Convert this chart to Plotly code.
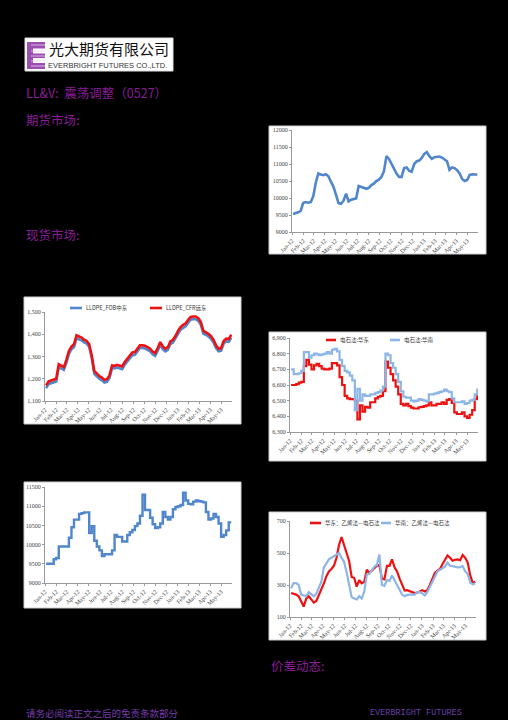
import pandas as pd
import plotly.graph_objects as go

W, H = 508, 720

# ---------------- data ----------------
dates = pd.date_range("2012-01-04", periods=74, freq="7D")

ll_futures = [9530, 9550, 9580, 9620, 9850, 9880, 9860, 9880, 10050, 10450,
              10720, 10690, 10670, 10700, 10640, 10480, 10330, 10100, 9850, 9830,
              9920, 10130, 9900, 9950, 9980, 9990, 10350, 10330, 10300, 10270,
              10300, 10380, 10420, 10500, 10540, 10620, 10780, 11230, 11150, 11000,
              10830, 10720, 10620, 10620, 10880, 10900, 10800, 10770, 11000, 11080,
              11100, 11180, 11300, 11350, 11230, 11150, 11200, 11220, 11220, 11190,
              11120, 11080, 10830, 10900, 10880, 10820, 10720, 10560, 10500, 10530,
              10680, 10700, 10690, 10690]

lldpe_cfr = [1170, 1188, 1192, 1195, 1200, 1265, 1258, 1252, 1285, 1325,
             1345, 1355, 1395, 1390, 1385, 1375, 1370, 1355, 1305, 1235,
             1222, 1212, 1205, 1195, 1198, 1215, 1260, 1258, 1262, 1260,
             1255, 1275, 1288, 1300, 1318, 1320, 1338, 1350, 1350, 1348,
             1342, 1335, 1322, 1315, 1338, 1365, 1345, 1335, 1342, 1368,
             1375, 1392, 1415, 1432, 1442, 1448, 1465, 1478, 1480, 1480,
             1472, 1455, 1415, 1410, 1402, 1392, 1375, 1350, 1335, 1338,
             1370, 1380, 1378, 1398]

lldpe_fob = [1158, 1176, 1180, 1183, 1188, 1252, 1246, 1240, 1272, 1312,
             1333, 1343, 1382, 1378, 1373, 1363, 1358, 1343, 1292, 1222,
             1210, 1200, 1193, 1183, 1186, 1203, 1248, 1246, 1250, 1248,
             1243, 1263, 1276, 1288, 1306, 1308, 1326, 1338, 1338, 1336,
             1330, 1323, 1310, 1303, 1326, 1352, 1333, 1323, 1330, 1356,
             1363, 1380, 1402, 1420, 1430, 1436, 1452, 1466, 1468, 1468,
             1460, 1443, 1402, 1398, 1390, 1380, 1363, 1338, 1323, 1326,
             1358, 1368, 1366, 1385]

pvc_east = [6600, 6600, 6605, 6615, 6620, 6720, 6760, 6730, 6700, 6725,
            6735, 6720, 6705, 6700, 6700, 6705, 6740, 6740, 6725, 6650,
            6600, 6530, 6515, 6510, 6510, 6500, 6380, 6470, 6430, 6460,
            6455, 6490, 6490, 6515, 6525, 6530, 6560, 6750, 6710, 6670,
            6630, 6590, 6540, 6480, 6470, 6480, 6465, 6455, 6450, 6450,
            6458, 6460, 6465, 6470, 6490, 6470, 6470, 6480, 6480, 6490,
            6480, 6505, 6510, 6485, 6425, 6415, 6415, 6425, 6400, 6390,
            6410, 6440, 6510, 6545]

pvc_south = [6700, 6670, 6670, 6675, 6690, 6810, 6810, 6775, 6790, 6800,
             6795, 6790, 6795, 6800, 6810, 6800, 6825, 6830, 6815, 6760,
             6720, 6690, 6680, 6660, 6630, 6440, 6575, 6500, 6540, 6530,
             6530, 6540, 6540, 6550, 6555, 6565, 6590, 6800, 6790, 6740,
             6710, 6670, 6620, 6560, 6525, 6520, 6520, 6500, 6495, 6500,
             6510, 6505, 6500, 6495, 6540, 6540, 6545, 6550, 6555, 6560,
             6570, 6560, 6555, 6515, 6490, 6490, 6490, 6495, 6480, 6485,
             6500, 6505, 6540, 6578]

ll_spot = [9500, 9500, 9500, 9620, 9650, 9950, 9950, 9950, 9950, 10180,
           10450, 10650, 10650, 10800, 10820, 10840, 10840, 10300, 10480, 10100,
           9950, 9850, 9700, 9750, 9750, 9750, 9850, 10250, 10200, 10200,
           10080, 10080, 10250, 10320, 10380, 10480, 10550, 10750, 11300, 10900,
           10900, 10700, 10530, 10430, 10450, 10550, 10850, 10720, 10650, 10720,
           10920, 10980, 11000, 11030, 11350, 11150, 11060, 11050, 11120, 11150,
           11130, 11120, 11100, 10850, 10650, 10680, 10800, 10720, 10550, 10200,
           10250, 10370, 10580, 10580]

spread_east = [250, 245, 240, 230, 200, 165, 215, 230, 210, 190,
               200, 235, 265, 310, 355, 385, 400, 420, 470, 550,
               600, 555, 500, 450, 350, 345, 290, 330, 310, 320,
               395, 375, 390, 410, 420, 425, 340, 335, 420, 420,
               460, 410, 385, 340, 300, 265, 268, 262, 255, 250,
               252, 262, 268, 260, 268, 300, 340, 375, 390, 400,
               430, 460, 485, 470, 452, 458, 460, 455, 488, 470,
               440, 360, 312, 320]

spread_south = [280, 312, 312, 300, 240, 235, 230, 255, 240, 230,
                245, 280, 320, 410, 440, 460, 470, 480, 490, 500,
                470, 445, 380, 310, 225, 215, 210, 230, 215, 260,
                365, 370, 390, 415, 425, 490, 300, 295, 330, 325,
                360, 330, 300, 275, 240, 230, 238, 240, 242, 240,
                255, 255, 248, 235, 255, 285, 320, 350, 385, 395,
                405, 415, 440, 420, 418, 415, 410, 412, 418, 385,
                370, 315, 305, 310]

legend_names = {
    "fob": "LLDPE_FOB中东",
    "cfr": "LLDPE_CFR远东",
    "pe": "电石法:华东",
    "ps": "电石法:华南",
    "se": "华东：乙烯法—电石法",
    "ss": "华南：乙烯法—电石法",
}

# ---------------- helpers ----------------
def px(x):
    return x / W


def py(y):
    return 1 - y / H


BLUE = "#4f86cc"
LBLUE = "#8db6e6"
RED = "#ee1111"
PURPLE = "#8a1c98"
TICKFONT = dict(family="Liberation Serif", size=6, color="#444444")

fig = go.Figure()

fig.add_trace(go.Scatter(x=dates, y=ll_futures, mode="lines", line=dict(color=BLUE, width=2.6),
                         xaxis="x", yaxis="y", showlegend=False))
fig.add_trace(go.Scatter(x=dates, y=lldpe_fob, mode="lines", line=dict(color=BLUE, width=2.6),
                         xaxis="x2", yaxis="y2", name=legend_names["fob"], showlegend=False))
fig.add_trace(go.Scatter(x=dates, y=lldpe_cfr, mode="lines", line=dict(color=RED, width=2.6),
                         xaxis="x2", yaxis="y2", name=legend_names["cfr"], showlegend=False))
fig.add_trace(go.Scatter(x=dates, y=pvc_east, mode="lines", line=dict(color=RED, width=2.2, shape="hv"),
                         xaxis="x3", yaxis="y3", name=legend_names["pe"], showlegend=False))
fig.add_trace(go.Scatter(x=dates, y=pvc_south, mode="lines", line=dict(color=LBLUE, width=2.2, shape="hv"),
                         xaxis="x3", yaxis="y3", name=legend_names["ps"], showlegend=False))
fig.add_trace(go.Scatter(x=dates, y=ll_spot, mode="lines", line=dict(color=BLUE, width=2.4, shape="hv"),
                         xaxis="x4", yaxis="y4", showlegend=False))
fig.add_trace(go.Scatter(x=dates, y=spread_east, mode="lines", line=dict(color=RED, width=2.2),
                         xaxis="x5", yaxis="y5", name=legend_names["se"], showlegend=False))
fig.add_trace(go.Scatter(x=dates, y=spread_south, mode="lines", line=dict(color=LBLUE, width=2.2),
                         xaxis="x5", yaxis="y5", name=legend_names["ss"], showlegend=False))

xrange_ = ["2012-01-01", "2013-05-31"]


def xaxis(dom, anchor):
    return dict(domain=dom, anchor=anchor, range=xrange_, type="date",
                tickformat="%b-%y", dtick="M1", tick0="2012-01-01",
                tickangle=-45, tickfont=TICKFONT, showgrid=False, zeroline=False,
                showline=True, linecolor="#999999", linewidth=1,
                ticks="outside", ticklen=2, tickcolor="#999999", automargin=False)


def yaxis(dom, anchor, rng, dtick, fmt):
    return dict(domain=dom, anchor=anchor, range=rng, dtick=dtick, tick0=rng[0], tickformat=fmt,
                tickfont=TICKFONT, showgrid=False, zeroline=False,
                showline=True, linecolor="#999999", linewidth=1,
                ticks="outside", ticklen=2, tickcolor="#999999", automargin=False)


areas = {
    1: (292, 478, 130, 232),
    2: (45, 232, 312, 401),
    3: (290, 478, 338, 432),
    4: (45, 232, 487, 583),
    5: (290, 476, 521, 617),
}

yspecs = {
    1: ([9000, 12000], 500, "d"),
    2: ([1100, 1500], 100, ",d"),
    3: ([6300, 6900], 100, ",d"),
    4: ([9000, 11500], 500, "d"),
    5: ([100, 700], 200, "d"),
}

layout = {}
for k, (x0, x1, y0, y1) in areas.items():
    sx = "" if k == 1 else str(k)
    layout["xaxis" + sx] = xaxis([px(x0), px(x1)], "y" + sx)
    r, d, f = yspecs[k]
    layout["yaxis" + sx] = yaxis([py(y1), py(y0)], "x" + sx, r, d, f)

boxes = [(269, 486, 126, 254), (24, 241, 297, 424), (269, 486, 332, 461),
         (24, 241, 482, 608), (269, 486, 512, 640)]
shapes = []
for (x0, x1, y0, y1) in boxes:
    shapes.append(dict(type="rect", xref="paper", yref="paper", layer="below",
                       x0=px(x0), x1=px(x1), y0=py(y1), y1=py(y0),
                       fillcolor="white", line=dict(color="#cfcfcf", width=1)))

# logo
shapes.append(dict(type="rect", xref="paper", yref="paper", layer="below",
                   x0=px(25), x1=px(173), y0=py(71), y1=py(38),
                   fillcolor="white", line=dict(color="#dddddd", width=1)))
shapes.append(dict(type="rect", xref="paper", yref="paper", layer="above",
                   x0=px(27), x1=px(45), y0=py(69), y1=py(42),
                   fillcolor="#9b4fb0", line=dict(width=0)))
for (a, b) in [(48.5, 53.5), (58, 63)]:
    shapes.append(dict(type="rect", xref="paper", yref="paper", layer="above",
                       x0=px(33), x1=px(45.5), y0=py(b), y1=py(a),
                       fillcolor="white", line=dict(width=0)))
for yy in [45, 51, 56, 61, 66]:
    shapes.append(dict(type="line", xref="paper", yref="paper", layer="above",
                       x0=px(31), x1=px(45), y0=py(yy), y1=py(yy),
                       line=dict(color="#e6d3ec", width=0.8)))

annotations = [
    dict(text="光大期货有限公司", x=px(47), y=py(49), xanchor="left", yanchor="middle",
         font=dict(family="Noto Sans CJK SC", size=15, color="#111111")),
    dict(text="EVERBRIGHT FUTURES CO.,LTD.", x=px(46), y=py(65.5), xanchor="left", yanchor="middle",
         font=dict(family="Liberation Sans", size=7.5, color="#333333")),
    dict(text="LL&V:  震荡调整（0527）", x=px(24), y=py(92), xanchor="left", yanchor="middle",
         font=dict(family="Noto Sans CJK SC", size=12.5, color=PURPLE)),
    dict(text="期货市场:", x=px(24), y=py(120), xanchor="left", yanchor="middle",
         font=dict(family="Noto Sans CJK SC", size=12.5, color=PURPLE)),
    dict(text="现货市场:", x=px(24), y=py(235), xanchor="left", yanchor="middle",
         font=dict(family="Noto Sans CJK SC", size=12.5, color=PURPLE)),
    dict(text="价差动态:", x=px(269), y=py(665), xanchor="left", yanchor="middle",
         font=dict(family="Noto Sans CJK SC", size=12.5, color=PURPLE)),
    dict(text="请务必阅读正文之后的免责条款部分", x=px(24), y=py(713), xanchor="left", yanchor="middle",
         font=dict(family="Noto Sans CJK SC", size=9.5, color="#7a3db0")),
    dict(text="EVERBRIGHT FUTURES", x=px(368), y=py(713), xanchor="left", yanchor="middle",
         font=dict(family="Liberation Mono", size=8.5, color="#6a40a8")),
]

legend_items = [
    (70, 82, 308, BLUE, "fob"), (150, 162, 308, RED, "cfr"),
    (326, 336, 340, RED, "pe"), (390, 400, 340, LBLUE, "ps"),
    (310, 321, 523, RED, "se"), (381, 391, 523, LBLUE, "ss"),
]
for (x0, x1, yy, col, key) in legend_items:
    shapes.append(dict(type="line", xref="paper", yref="paper", layer="above",
                       x0=px(x0), x1=px(x1), y0=py(yy), y1=py(yy),
                       line=dict(color=col, width=2.6)))
    annotations.append(dict(text=legend_names[key], x=px(x1 + 1.5), y=py(yy), xanchor="left",
                            yanchor="middle",
                            font=dict(family="Noto Sans CJK SC", size=5.5, color="#333333")))

for a in annotations:
    a.update(xref="paper", yref="paper", showarrow=False)

fig.update_layout(width=W, height=H, margin=dict(l=0, r=0, t=0, b=0, autoexpand=False),
                  paper_bgcolor="black", plot_bgcolor="white", showlegend=False,
                  shapes=shapes, annotations=annotations, **layout)

fig.write_html("out.html")
